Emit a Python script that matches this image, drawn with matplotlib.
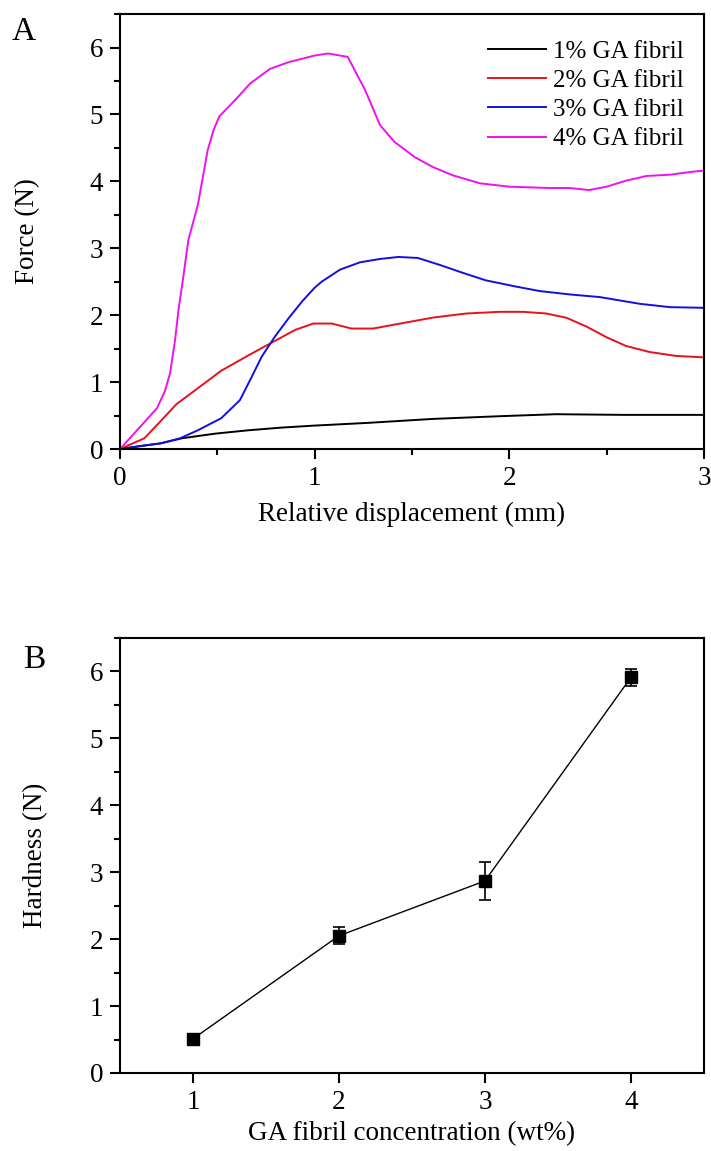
import matplotlib
matplotlib.use("Agg")
import matplotlib.pyplot as plt
from matplotlib.ticker import MultipleLocator

plt.rcParams['font.family'] = ['Liberation Serif', 'DejaVu Serif']

# Panel A data
x1 = [0, 0.21, 0.317, 0.49, 0.66, 0.83, 1.0, 1.27, 1.61, 1.95, 2.24, 2.59, 3.0]
y1 = [0, 0.085, 0.16, 0.23, 0.28, 0.32, 0.35, 0.39, 0.45, 0.49, 0.52, 0.51, 0.51]

x2 = [0, 0.125, 0.197, 0.29, 0.41, 0.52, 0.66, 0.78, 0.90, 0.993, 1.087, 1.19, 1.30, 1.44,
      1.61, 1.78, 1.95, 2.07, 2.19, 2.295, 2.40, 2.5, 2.60, 2.72, 2.86, 3.0]
y2 = [0, 0.16, 0.38, 0.67, 0.93, 1.17, 1.40, 1.59, 1.78, 1.875, 1.875, 1.80, 1.80, 1.875,
      1.965, 2.025, 2.05, 2.05, 2.025, 1.96, 1.825, 1.67, 1.54, 1.45, 1.39, 1.37]

x3 = [0, 0.103, 0.21, 0.308, 0.40, 0.52, 0.616, 0.677, 0.728, 0.796, 0.865, 0.94, 1.0, 1.036,
      1.13, 1.233, 1.336, 1.43, 1.53, 1.644, 1.764, 1.88, 2.03, 2.157, 2.31, 2.466, 2.67,
      2.825, 3.0]
y3 = [0, 0.045, 0.085, 0.16, 0.28, 0.46, 0.73, 1.08, 1.38, 1.68, 1.95, 2.22, 2.41, 2.50,
      2.68, 2.79, 2.84, 2.87, 2.855, 2.75, 2.63, 2.52, 2.43, 2.36, 2.31, 2.27, 2.17,
      2.12, 2.11]

x4 = [0, 0.103, 0.19, 0.23, 0.257, 0.283, 0.30, 0.325, 0.351, 0.40, 0.42, 0.45, 0.48, 0.51,
      0.59, 0.668, 0.77, 0.865, 1.0, 1.07, 1.17, 1.26, 1.336, 1.41, 1.515, 1.61, 1.71,
      1.85, 2.0, 2.21, 2.31, 2.41, 2.5, 2.6, 2.705, 2.83, 2.93, 3.0]
y4 = [0, 0.33, 0.61, 0.86, 1.13, 1.63, 2.07, 2.57, 3.12, 3.65, 3.97, 4.46, 4.76, 4.97,
      5.21, 5.46, 5.68, 5.78, 5.88, 5.91, 5.86, 5.36, 4.84, 4.59, 4.36, 4.21, 4.09,
      3.97, 3.92, 3.9, 3.9, 3.87, 3.92, 4.01, 4.08, 4.10, 4.14, 4.16]

labels_A = ['1% GA fibril', '2% GA fibril', '3% GA fibril', '4% GA fibril']
colors_A = ['#000000', '#e8101a', '#1010e0', '#f010f0']

# Panel B data
conc = [1, 2, 3, 4]
hardness = [0.51, 2.05, 2.87, 5.91]
hardness_err = [0.04, 0.13, 0.29, 0.13]

fig = plt.figure(figsize=(7.11, 11.51), dpi=100)
axA = fig.add_axes([0.1688, 0.6099, 0.8212, 0.3779])
axB = fig.add_axes([0.1688, 0.0678, 0.8212, 0.3779])

for xs, ys, lab, c in zip([x1, x2, x3, x4], [y1, y2, y3, y4], labels_A, colors_A):
    axA.plot(xs, ys, color=c, lw=1.4, label=lab)

axA.set_xlim(0, 3)
axA.set_ylim(0, 6.5)
axA.xaxis.set_major_locator(MultipleLocator(1))
axA.xaxis.set_minor_locator(MultipleLocator(0.5))
axA.yaxis.set_major_locator(MultipleLocator(1))
axA.yaxis.set_minor_locator(MultipleLocator(0.5))
axA.set_xlabel('Relative displacement (mm)', fontsize=19.5, labelpad=8)
axA.set_ylabel('Force (N)', fontsize=19.5, labelpad=36)
leg = axA.legend(loc='upper right', bbox_to_anchor=(0.966, 0.940), frameon=False,
                 fontsize=18, handlelength=2.3, handletextpad=0.3, labelspacing=0.27,
                 borderaxespad=0, borderpad=0)

axB.errorbar(conc, hardness, yerr=hardness_err, color='black', lw=1.0, marker='s',
             markersize=8, capsize=4, elinewidth=1.2, capthick=1.2)
axB.set_xlim(0.5, 4.5)
axB.set_ylim(0, 6.5)
axB.xaxis.set_major_locator(MultipleLocator(1))
axB.yaxis.set_major_locator(MultipleLocator(1))
axB.yaxis.set_minor_locator(MultipleLocator(0.5))
axB.set_xlabel('GA fibril concentration (wt%)', fontsize=19.5, labelpad=5)
axB.set_ylabel('Hardness (N)', fontsize=19.5, labelpad=30)

for ax in (axA, axB):
    for s in ax.spines.values():
        s.set_linewidth(1.5)
    ax.tick_params(which='major', direction='out', length=7, width=1.5, labelsize=19.5,
                   top=False, right=False, pad=5)
    ax.tick_params(which='minor', direction='out', length=4, width=1.5,
                   top=False, right=False)

fig.text(0.017, 0.972, 'A', fontsize=24, va='center', ha='left')
fig.text(0.032, 0.427, 'B', fontsize=24, va='center', ha='left')

fig.savefig('out.png', dpi=100)
